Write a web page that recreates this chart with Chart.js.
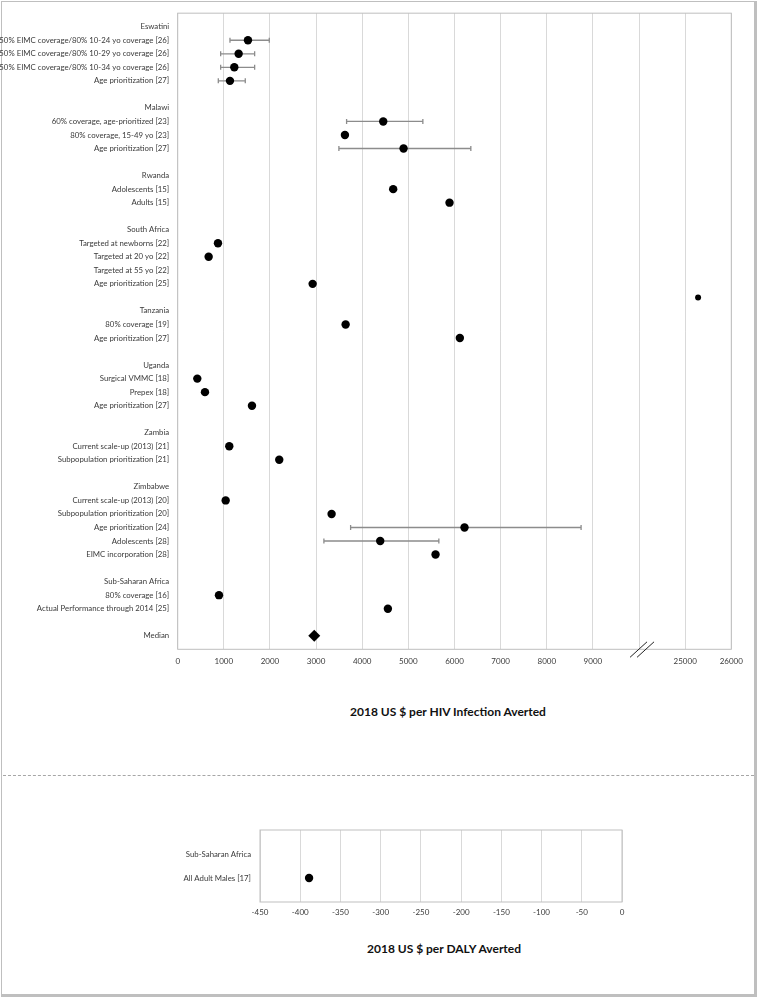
<!DOCTYPE html>
<html>
<head>
<meta charset="utf-8">
<script src="https://cdn.jsdelivr.net/npm/chart.js@4.4.0/dist/chart.umd.min.js"></script>
<style>
  body { margin: 0; background: #fff; width: 758px; height: 998px; position: relative; overflow: hidden; font-family: Lato, sans-serif; }
  #frame { position: absolute; left: 1px; top: 1px; width: 752px; height: 992px; border: 1px solid #bfbfbf; border-right-width: 3px; border-bottom-width: 3px; }
  #topWrap { position: absolute; left: 0; top: 0; width: 758px; height: 670px; }
  #botWrap { position: absolute; left: 0; top: 800px; width: 758px; height: 130px; }
  #sep { position: absolute; left: 3px; top: 775px; width: 751px; border-top: 1px dashed #a6a6a6; }
  .title { position: absolute; font-weight: bold; font-size: 12px; color: #111; white-space: nowrap; transform: translate(-50%, -50%); }
</style>
</head>
<body>
<div id="frame"></div>
<div id="topWrap"><canvas id="topChart"></canvas></div>
<div class="title" style="left:448px;top:711px">2018 US $ per HIV Infection Averted</div>
<div id="sep"></div>
<div id="botWrap"><canvas id="botChart"></canvas></div>
<div class="title" style="left:444px;top:948px">2018 US $ per DALY Averted</div>
<script>
// ---- data ----
var rowLabels = [
  "Eswatini",
  "50% EIMC coverage/80% 10-24 yo coverage [26]",
  "50% EIMC coverage/80% 10-29 yo coverage [26]",
  "50% EIMC coverage/80% 10-34 yo coverage [26]",
  "Age prioritization [27]",
  "",
  "Malawi",
  "60% coverage, age-prioritized [23]",
  "80% coverage, 15-49 yo [23]",
  "Age prioritization [27]",
  "",
  "Rwanda",
  "Adolescents [15]",
  "Adults [15]",
  "",
  "South Africa",
  "Targeted at newborns [22]",
  "Targeted at 20 yo [22]",
  "Targeted at 55 yo [22]",
  "Age prioritization [25]",
  "",
  "Tanzania",
  "80% coverage [19]",
  "Age prioritization [27]",
  "",
  "Uganda",
  "Surgical VMMC [18]",
  "Prepex [18]",
  "Age prioritization [27]",
  "",
  "Zambia",
  "Current scale-up (2013) [21]",
  "Subpopulation prioritization [21]",
  "",
  "Zimbabwe",
  "Current scale-up (2013) [20]",
  "Subpopulation prioritization [20]",
  "Age prioritization [24]",
  "Adolescents [28]",
  "EIMC incorporation [28]",
  "",
  "Sub-Saharan Africa",
  "80% coverage [16]",
  "Actual Performance through 2014 [25]",
  "",
  "Median"
];
var rowValues = [null, 1523, 1321, 1227, 1133, null,
  null, 4455, 3625, 4896, null,
  null, 4671, 5892, null,
  null, 873, 671, null, 2925, null,
  null, 3640, 6116, null,
  null, 425, 591, 1610, null,
  null, 1118, 2201, null,
  null, 1040, 3336, 6217, 4390, 5589, null,
  null, 895, 4556, null,
  null];
var errLow = [null, 1133, 931, 931, 880, null,
  null, 3661, null, 3494, null,
  null, null, null, null,
  null, null, null, null, null, null,
  null, null, null, null,
  null, null, null, null, null,
  null, null, null, null,
  null, null, null, 3748, 3169, null, null,
  null, null, null, null,
  null];
var errHigh = [null, 1985, 1668, 1668, 1465, null,
  null, 5314, null, 6354, null,
  null, null, null, null,
  null, null, null, null, null, null,
  null, null, null, null,
  null, null, null, null, null,
  null, null, null, null,
  null, null, null, 8744, 5661, null, null,
  null, null, null, null,
  null];
var outlierRow = 20;
var outlierValue = 25280;
var medianRow = 45;
var medianValue = 2960;
var xTickLabels = ["0", "1000", "2000", "3000", "4000", "5000", "6000", "7000", "8000", "9000", "", "25000", "26000"];

var dalyLabels = ["Sub-Saharan Africa", "All Adult Males [17]"];
var dalyValues = [null, -389];

// ---- axis break: 10000..24000 is cut out ----
function brk(v) { return v > 10000 ? v - 14000 : v; }

var textColor = '#3a3a3a';
var gridColor = '#d9d9d9';
var boxColor = '#bfbfbf';
Chart.defaults.font.family = 'Lato, sans-serif';

var boxPlugin = {
  id: 'box',
  afterDraw: function(chart) {
    var a = chart.chartArea, ctx = chart.ctx;
    ctx.save();
    ctx.strokeStyle = boxColor;
    ctx.lineWidth = 1;
    ctx.strokeRect(a.left, a.top, a.right - a.left, a.bottom - a.top);
    ctx.restore();
  }
};

var errorBarPlugin = {
  id: 'errbars',
  beforeDatasetsDraw: function(chart) {
    var xs = chart.scales.x, ys = chart.scales.y, ctx = chart.ctx;
    ctx.save();
    ctx.strokeStyle = '#8c8c8c';
    ctx.lineWidth = 1.3;
    for (var i = 0; i < errLow.length; i++) {
      if (errLow[i] === null) continue;
      var x1 = xs.getPixelForValue(brk(errLow[i]));
      var x2 = xs.getPixelForValue(brk(errHigh[i]));
      var y = ys.getPixelForValue(i);
      ctx.beginPath();
      ctx.moveTo(x1, y); ctx.lineTo(x2, y);
      ctx.moveTo(x1, y - 2.5); ctx.lineTo(x1, y + 2.5);
      ctx.moveTo(x2, y - 2.5); ctx.lineTo(x2, y + 2.5);
      ctx.stroke();
    }
    ctx.restore();
  }
};

var breakPlugin = {
  id: 'axisbreak',
  afterDraw: function(chart) {
    var x = chart.scales.x.getPixelForValue(10000);
    var b = chart.chartArea.bottom;
    var ctx = chart.ctx;
    ctx.save();
    ctx.strokeStyle = '#222';
    ctx.lineWidth = 1;
    [0, 7].forEach(function(o) {
      ctx.beginPath();
      ctx.moveTo(x - 9 + o, b + 8);
      ctx.lineTo(x + 8 + o, b - 7.5);
      ctx.stroke();
    });
    ctx.restore();
  }
};

var mainPoints = [];
rowValues.forEach(function(v, i) { if (v !== null) mainPoints.push({ x: brk(v), y: i }); });

new Chart(document.getElementById('topChart').getContext('2d'), {
  type: 'scatter',
  data: {
    datasets: [{
      label: 'Estimates',
      data: mainPoints,
      backgroundColor: '#000',
      borderWidth: 0,
      pointRadius: 4.2
    }, {
      label: 'Outlier',
      data: [{ x: brk(outlierValue), y: outlierRow }],
      backgroundColor: '#000',
      borderWidth: 0,
      pointRadius: 3
    }, {
      label: 'Median',
      data: [{ x: medianValue, y: medianRow }],
      backgroundColor: '#000',
      borderWidth: 0,
      pointStyle: 'rectRot',
      pointRadius: 6
    }]
  },
  options: {
    responsive: true,
    maintainAspectRatio: false,
    animation: false,
    layout: { padding: { top: 12.3, right: 26.7, left: 0, bottom: 0 } },
    plugins: { legend: { display: false }, tooltip: { enabled: false } },
    scales: {
      x: {
        type: 'linear', min: 0, max: 12000,
        afterFit: function(s) { s.height = 20.7; },
        ticks: {
          stepSize: 1000, padding: 7, color: textColor, font: { size: 8 },
          maxRotation: 0, autoSkip: false,
          callback: function(v) { return xTickLabels[Math.round(v / 1000)]; }
        },
        grid: { color: gridColor, drawTicks: false },
        border: { display: false }
      },
      y: {
        type: 'linear', min: -1, max: 46, reverse: true,
        afterFit: function(s) { s.width = 177.7; },
        ticks: {
          stepSize: 1, autoSkip: false, padding: 8.5, color: textColor, font: { size: 7.8 },
          callback: function(v) { return rowLabels[v] || ''; }
        },
        grid: { display: false, drawTicks: false },
        border: { display: false }
      }
    }
  },
  plugins: [errorBarPlugin, boxPlugin, breakPlugin]
});

var dalyPoints = [];
dalyValues.forEach(function(v, i) { if (v !== null) dalyPoints.push({ x: v, y: i }); });

new Chart(document.getElementById('botChart').getContext('2d'), {
  type: 'scatter',
  data: {
    datasets: [{
      label: 'DALY',
      data: dalyPoints,
      backgroundColor: '#000',
      borderWidth: 0,
      pointRadius: 4.2
    }]
  },
  options: {
    responsive: true,
    maintainAspectRatio: false,
    animation: false,
    layout: { padding: { top: 30, right: 136, left: 0, bottom: 0 } },
    plugins: { legend: { display: false }, tooltip: { enabled: false } },
    scales: {
      x: {
        type: 'linear', min: -450, max: 0,
        afterFit: function(s) { s.height = 28; },
        ticks: { stepSize: 50, padding: 6, color: textColor, font: { size: 8 }, maxRotation: 0, autoSkip: false },
        grid: { color: gridColor, drawTicks: false },
        border: { display: false }
      },
      y: {
        type: 'linear', min: -1, max: 2, reverse: true,
        afterFit: function(s) { s.width = 260; },
        ticks: {
          stepSize: 1, autoSkip: false, padding: 9, color: textColor, font: { size: 7.8 },
          callback: function(v) { return dalyLabels[v] || ''; }
        },
        grid: { display: false, drawTicks: false },
        border: { display: false }
      }
    }
  },
  plugins: [boxPlugin]
});
</script>
</body>
</html>
